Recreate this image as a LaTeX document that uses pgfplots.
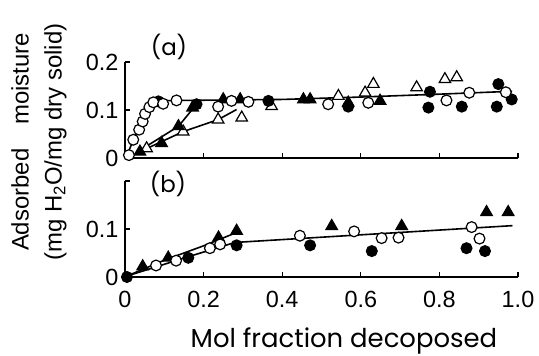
\documentclass[border=0pt]{standalone}
\usepackage{fontspec}
\setmainfont{Liberation Sans}
\newfontfamily\geo{Poppins}
\usepackage{pgfplots}
\pgfplotsset{compat=1.18}
\pgfplotsset{
  panel/.style={
    scale only axis, width=393bp, height=96bp,
    xmin=0, xmax=1, ymin=0, ymax=0.2,
    axis lines=left, axis line style={-, line width=1.5bp},
    tick align=inside, major tick length=5bp,
    tick style={line width=1.3bp, black},
    xtick={0,0.2,0.4,0.6,0.8,1.0},
    ytick={0,0.1,0.2},
    /pgf/number format/assume math mode=true,
    ticklabel style={font=\fontsize{23.5}{26}\selectfont},
    yticklabel style={xshift=-3bp},
    xticklabel style={yshift=-11bp},
    clip=false,
  },
  ocirc/.style={only marks, mark=*, mark size=5.4bp, mark options={fill=white, draw=black, line width=1.2bp}},
  fcirc/.style={only marks, mark=*, mark size=5.4bp, mark options={fill=black, draw=black, line width=1.2bp}},
  otri/.style={only marks, mark=triangle*, mark size=6.6bp, mark options={fill=white, draw=black, line width=1.2bp}},
  ftri/.style={only marks, mark=triangle*, mark size=6.6bp, mark options={fill=black, draw=black, line width=1.2bp}},
  crv/.style={no marks, black, line width=1.6bp},
}
\begin{document}
\begin{tikzpicture}
\useasboundingbox (0,0) rectangle (539bp,-356bp);
% ---------- panel (a)
\begin{axis}[panel, at={(125bp,-158bp)}, anchor=south west,
  xticklabels={}, yticklabels={0,0.1,0.2}]
\addplot[crv, smooth] coordinates {(0.005,0.005) (0.02,0.035) (0.04,0.07) (0.06,0.098) (0.08,0.114) (0.1,0.119) (0.15,0.12)};
\addplot[crv] coordinates {(0.15,0.12) (0.4,0.122) (0.6,0.127) (0.8,0.133) (0.985,0.139)};
\addplot[crv] coordinates {(0.03,0.012) (0.136,0.066) (0.182,0.112)};
\addplot[crv] coordinates {(0.035,0.012) (0.148,0.055) (0.237,0.08) (0.284,0.101)};
\addplot[otri] coordinates {(0.055,0.02) (0.148,0.055) (0.237,0.08) (0.297,0.084) (0.373,0.108) (0.543,0.129) (0.611,0.136) (0.632,0.154) (0.742,0.147) (0.814,0.164) (0.844,0.168)};
\addplot[ftri] coordinates {(0.038,0.013) (0.093,0.031) (0.136,0.066) (0.172,0.105) (0.25,0.122) (0.293,0.122) (0.454,0.122) (0.471,0.122) (0.568,0.115) (0.649,0.119)};
\addplot[fcirc] coordinates {(0.085,0.118) (0.182,0.112) (0.365,0.119) (0.568,0.107) (0.776,0.138) (0.772,0.105) (0.857,0.107) (0.946,0.107) (0.95,0.154) (0.984,0.122)};
\addplot[ocirc] coordinates {(0.01,0.006) (0.021,0.038) (0.036,0.059) (0.045,0.076) (0.051,0.092) (0.062,0.106) (0.072,0.116) (0.097,0.113) (0.131,0.12) (0.237,0.107) (0.271,0.119) (0.314,0.117) (0.517,0.112) (0.619,0.115) (0.818,0.12) (0.876,0.136) (0.969,0.137)};
\end{axis}
% ---------- panel (b)
\begin{axis}[panel, at={(125bp,-277bp)}, anchor=south west,
  xticklabels={0,0.2,0.4,0.6,0.8,1.0}, yticklabels={0,0.1,}]
\addplot[crv] coordinates {(0.005,0.002) (0.16,0.042) (0.28,0.072) (0.986,0.107)};
\addplot[crv] coordinates {(0.005,0.002) (0.1,0.035) (0.2,0.065) (0.285,0.093)};
\addplot[ftri] coordinates {(0.045,0.022) (0.11,0.04) (0.238,0.082) (0.284,0.096) (0.526,0.106) (0.704,0.106) (0.92,0.135) (0.975,0.135)};
\addplot[fcirc] coordinates {(0.005,0.0) (0.161,0.04) (0.284,0.066) (0.471,0.066) (0.628,0.054) (0.869,0.06) (0.916,0.054)};
\addplot[ocirc] coordinates {(0.079,0.024) (0.13,0.034) (0.216,0.06) (0.242,0.068) (0.445,0.086) (0.583,0.095) (0.653,0.081) (0.696,0.082) (0.882,0.104) (0.902,0.08)};
\end{axis}
% ---------- texts
\node[font=\geo\fontsize{23}{25}\selectfont] at (169bp,-47bp) {(a)};
\node[font=\geo\fontsize{23}{25}\selectfont] at (168bp,-184bp) {(b)};
\node[rotate=90, align=center, font=\fontsize{24}{33}\selectfont] at (39bp,-142bp) {Adsorbed\hspace{1em}moisture\\(mg H\textsubscript{2}O/mg dry solid)};
\node[font=\geo\fontsize{26}{28}\selectfont] at (344bp,-341bp) {Mol fraction decoposed};
\end{tikzpicture}
\end{document}
